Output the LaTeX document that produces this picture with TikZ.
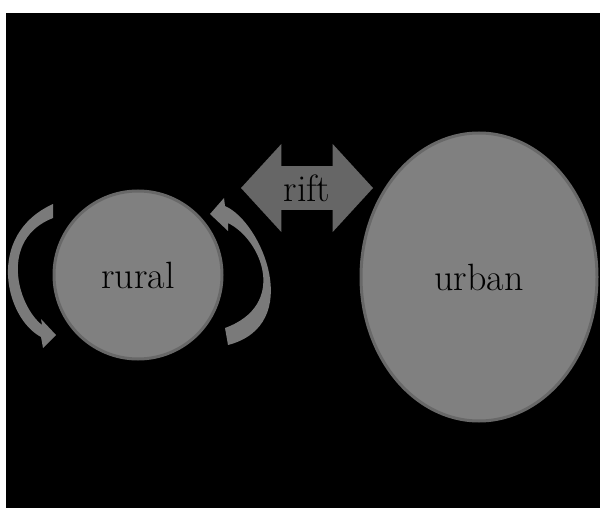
\documentclass[tikz,border=0pt]{standalone}
\usepackage{xcolor}
\usepackage{tikz}
\usetikzlibrary{shapes,arrows,arrows.meta}

\definecolor{blobgray}{RGB}{128,128,128}
\definecolor{blobedge}{RGB}{104,104,104}
\definecolor{riftgray}{RGB}{102,102,102}
\definecolor{swirlgray}{RGB}{122,122,122}

\begin{document}
\begin{tikzpicture}[x=1pt, y=-1pt, >=latex']
    \tikzstyle{blob} = [draw=blobedge, line width=3pt, fill=blobgray, text=black,
        font=\fontsize{38}{44}\selectfont]
    \tikzstyle{swirl} = [fill=swirlgray]

    \useasboundingbox (0,0) rectangle (600,508);
    \fill[black] (6,13) rectangle (600,508);

    \node [blob, circle, minimum size=168pt] (rural) at (138,275) {rural};
    \node [blob, ellipse, minimum width=236pt, minimum height=288pt] (urban) at (479,277) {urban};
    \node [double arrow, fill=riftgray, text=black, inner sep=0pt,
        minimum height=132pt, minimum width=88pt, double arrow head extend=14pt,
        double arrow tip angle=95, font=\fontsize{38}{44}\selectfont] (rift) at (307,188) {rift};

    % the two turning arrows round rural
    \fill [swirl] (53,204) .. controls (-15,235) and (5,318) .. (41,337) -- (43,348) -- (56,335)
        -- (41,319) -- (42,325) .. controls (17,305) and (-1,239) .. (53,218) -- cycle;
    \fill [swirl] (225,328) .. controls (288,305) and (262,240) .. (228,223) -- (228,231)
        -- (210,214) -- (224,198) -- (225,206) .. controls (262,222) and (305,325) .. (228,345) -- cycle;
\end{tikzpicture}
\end{document}
